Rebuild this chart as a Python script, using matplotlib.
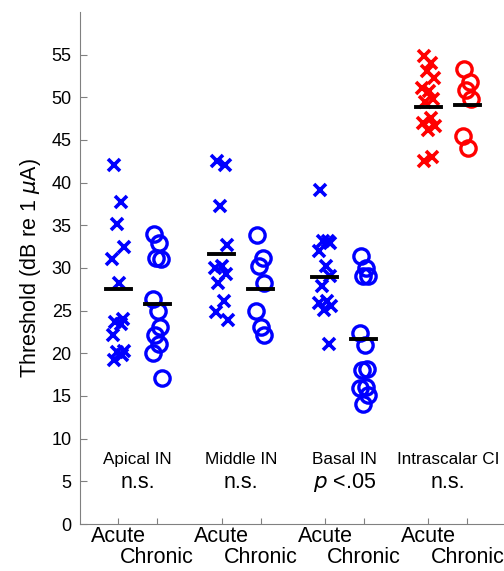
import matplotlib.pyplot as plt
import numpy as np

plt.rcParams['font.family'] = ['Liberation Sans', 'DejaVu Sans']
plt.rcParams['mathtext.fontset'] = 'dejavusans'

# groups and conditions
groups = ['Apical IN', 'Middle IN', 'Basal IN', 'Intrascalar CI']
stats = ['n.s.', 'n.s.', '$p$ <.05', 'n.s.']
conds = ['Acute', 'Chronic']

# thresholds (dB re 1 uA)
apical_acute = [42.1, 37.7, 35.1, 32.5, 31.0, 28.2, 24.0, 23.7, 23.4, 22.1, 20.3, 20.1, 19.8, 19.2]
apical_chronic = [34.0, 32.9, 31.2, 31.0, 26.3, 25.0, 23.1, 22.1, 21.1, 20.0, 17.1]
middle_acute = [42.5, 42.0, 37.2, 32.7, 30.0, 30.2, 29.3, 28.2, 26.1, 24.8, 23.9]
middle_chronic = [33.9, 31.2, 30.2, 28.2, 25.0, 23.1, 22.1]
basal_acute = [39.1, 33.1, 33.1, 32.9, 32.0, 30.2, 29.0, 27.9, 26.1, 25.9, 25.5, 25.1, 21.1]
basal_chronic = [31.4, 30.0, 29.0, 29.0, 22.4, 21.0, 18.2, 18.0, 16.1, 15.9, 15.1, 14.0]
intra_acute = [54.8, 54.0, 53.1, 52.3, 51.1, 50.7, 49.8, 49.4, 47.6, 47.0, 46.6, 46.2, 43.0, 42.5]
intra_chronic = [53.3, 51.8, 50.9, 49.8, 45.5, 44.1]

# group means as drawn (black bars), acute/chronic per group
mean_acute = [27.5, 31.6, 28.9, 48.8]
mean_chronic = [25.8, 27.5, 21.7, 49.1]

data = [(apical_acute, apical_chronic), (middle_acute, middle_chronic),
        (basal_acute, basal_chronic), (intra_acute, intra_chronic)]
colors = ['b', 'b', 'b', 'r']

# small fixed scatter so overlapping points stay visible
jit = [-0.12, 0.08, -0.04, 0.14, -0.16, 0.02, 0.12, -0.08, 0.06, -0.14, 0.16, -0.02, 0.1, -0.1]

fig = plt.figure(figsize=(5.04, 5.71), dpi=100)
ax = fig.add_axes([0.1587, 0.0823, 0.8413, 0.897])

gap = 2.65
ticks = []
labels = []
for g, (acute, chronic) in enumerate(data):
    x0 = g * gap
    c = colors[g]
    xa = x0 + np.array(jit[:len(acute)])
    ax.plot(xa, acute, 'x', color=c, ms=8, mew=2.6, ls='none')
    xc = x0 + 1 + np.array(jit[:len(chronic)]) * 0.7
    ax.plot(xc, chronic, 'o', color=c, ms=11, mfc='none', mew=2.4, ls='none')
    # mean bars
    ax.plot([x0 - 0.32, x0 + 0.32], [mean_acute[g]] * 2, 'k-', lw=2.8, zorder=5)
    ax.plot([x0 + 1 - 0.32, x0 + 1 + 0.32], [mean_chronic[g]] * 2, 'k-', lw=2.8, zorder=5)
    ax.text(x0 + 0.5, 7.0, groups[g], ha='center', va='baseline', fontsize=12.3)
    ax.text(x0 + 0.5, 4.26, stats[g], ha='center', va='baseline', fontsize=15.5)
    ticks += [x0, x0 + 1]
    labels += conds

ax.set_xlim(-0.98, 9.89)
ax.set_ylim(0, 60)
ax.set_yticks(np.arange(0, 60, 5))
ax.set_xticks(ticks)
ax.set_xticklabels(labels, fontsize=15.5)
ax.tick_params(axis='y', direction='in', length=5, labelsize=13, pad=6, color='gray')
ax.tick_params(axis='x', direction='in', length=4, pad=1.5, color='gray')
for i, t in enumerate(ax.xaxis.get_major_ticks()):
    if i % 2 == 1:
        t.set_pad(16.5)
ax.set_ylabel('Threshold (dB re 1 $\\mu$A)', fontsize=15.5, labelpad=6)

for s in ['top', 'right']:
    ax.spines[s].set_visible(False)
for s in ['left', 'bottom']:
    ax.spines[s].set_color('gray')

fig.savefig('out.png', dpi=100)
